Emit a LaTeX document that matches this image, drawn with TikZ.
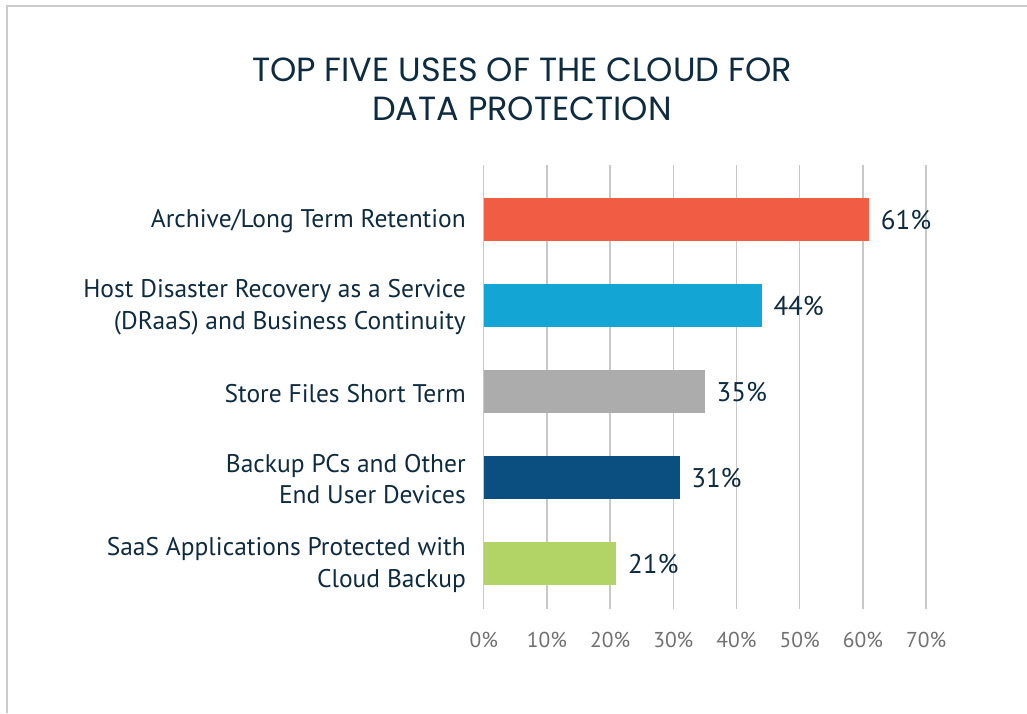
\documentclass[tikz,border=0pt]{standalone}
\usepackage{fontspec}
\setmainfont{PT Sans}
\newfontfamily\titlefont{Poppins}
\definecolor{inkblue}{HTML}{0F2B3F}
\definecolor{axisgray}{HTML}{707070}
\definecolor{gridgray}{HTML}{C8C8C8}
\definecolor{framegray}{HTML}{CBCBCB}
\definecolor{barred}{HTML}{F15C45}
\definecolor{barcyan}{HTML}{13A6D4}
\definecolor{bargray}{HTML}{ABACAB}
\definecolor{barnavy}{HTML}{0B4F80}
\definecolor{bargreen}{HTML}{B2D467}
\tikzset{
  title/.style={text=inkblue,align=center,inner sep=0pt,font=\titlefont\fontsize{33.5}{39}\selectfont},
  catlabel/.style={text=inkblue,align=right,anchor=east,inner sep=0pt,font=\fontsize{25.5}{31.5}\selectfont},
  vallabel/.style={text=inkblue,anchor=base west,inner sep=0pt,font=\fontsize{27}{30}\selectfont},
  ticklabel/.style={text=axisgray,anchor=base,inner sep=0pt,font=\fontsize{21.5}{25}\selectfont},
  grid line/.style={gridgray,line width=1.3pt}
}
\begin{document}
\begin{tikzpicture}[x=1pt,y=-1pt]
				\useasboundingbox (0,0) rectangle (1027,713);
				\draw[framegray,line width=1.5pt] (7,713) -- (7,6) -- (1027,6);
				\node[title] (title) at (522,89) {TOP FIVE USES OF THE CLOUD FOR\\DATA PROTECTION};
				% vertical grid, 63.2 per 10%
				\draw[grid line] (483.7,165) -- (483.7,609) (546.9,165) -- (546.9,609)
					(610.1,165) -- (610.1,609) (673.3,165) -- (673.3,609)
					(736.5,165) -- (736.5,609) (799.7,165) -- (799.7,609)
					(862.9,165) -- (862.9,609) (926.1,165) -- (926.1,609);
				\node[ticklabel] (t0) at (483.7,647) {0\%};
				\node[ticklabel] (t10) at (546.9,647) {10\%};
				\node[ticklabel] (t20) at (610.1,647) {20\%};
				\node[ticklabel] (t30) at (673.3,647) {30\%};
				\node[ticklabel] (t40) at (736.5,647) {40\%};
				\node[ticklabel] (t50) at (799.7,647) {50\%};
				\node[ticklabel] (t60) at (862.9,647) {60\%};
				\node[ticklabel] (t70) at (926.1,647) {70\%};
				\fill[barred] (483.7,198) rectangle (869.2,241);
				\fill[barcyan] (483.7,284) rectangle (761.8,327);
				\fill[bargray] (483.7,370) rectangle (704.9,413);
				\fill[barnavy] (483.7,456) rectangle (679.6,499);
				\fill[bargreen] (483.7,542) rectangle (616.4,585);
				\node[vallabel] (v1) at (880.7,229.6) {61\%};
				\node[vallabel] (v2) at (773.3,315.6) {44\%};
				\node[vallabel] (v3) at (716.4,401.6) {35\%};
				\node[vallabel] (v4) at (691.1,487.6) {31\%};
				\node[vallabel] (v5) at (627.9,573.6) {21\%};
				\node[catlabel] (c1) at (466,221.5) {Archive/Long Term Retention};
				\node[catlabel] (c2) at (466,307) {Host Disaster Recovery as a Service\\(DRaaS) and Business Continuity};
				\node[catlabel] (c3) at (466,393.5) {Store Files Short Term};
				\node[catlabel] (c4) at (466,479) {Backup PCs and Other\\End User Devices};
				\node[catlabel] (c5) at (466,565) {SaaS Applications Protected with\\Cloud Backup};
			\end{tikzpicture}
\end{document}
